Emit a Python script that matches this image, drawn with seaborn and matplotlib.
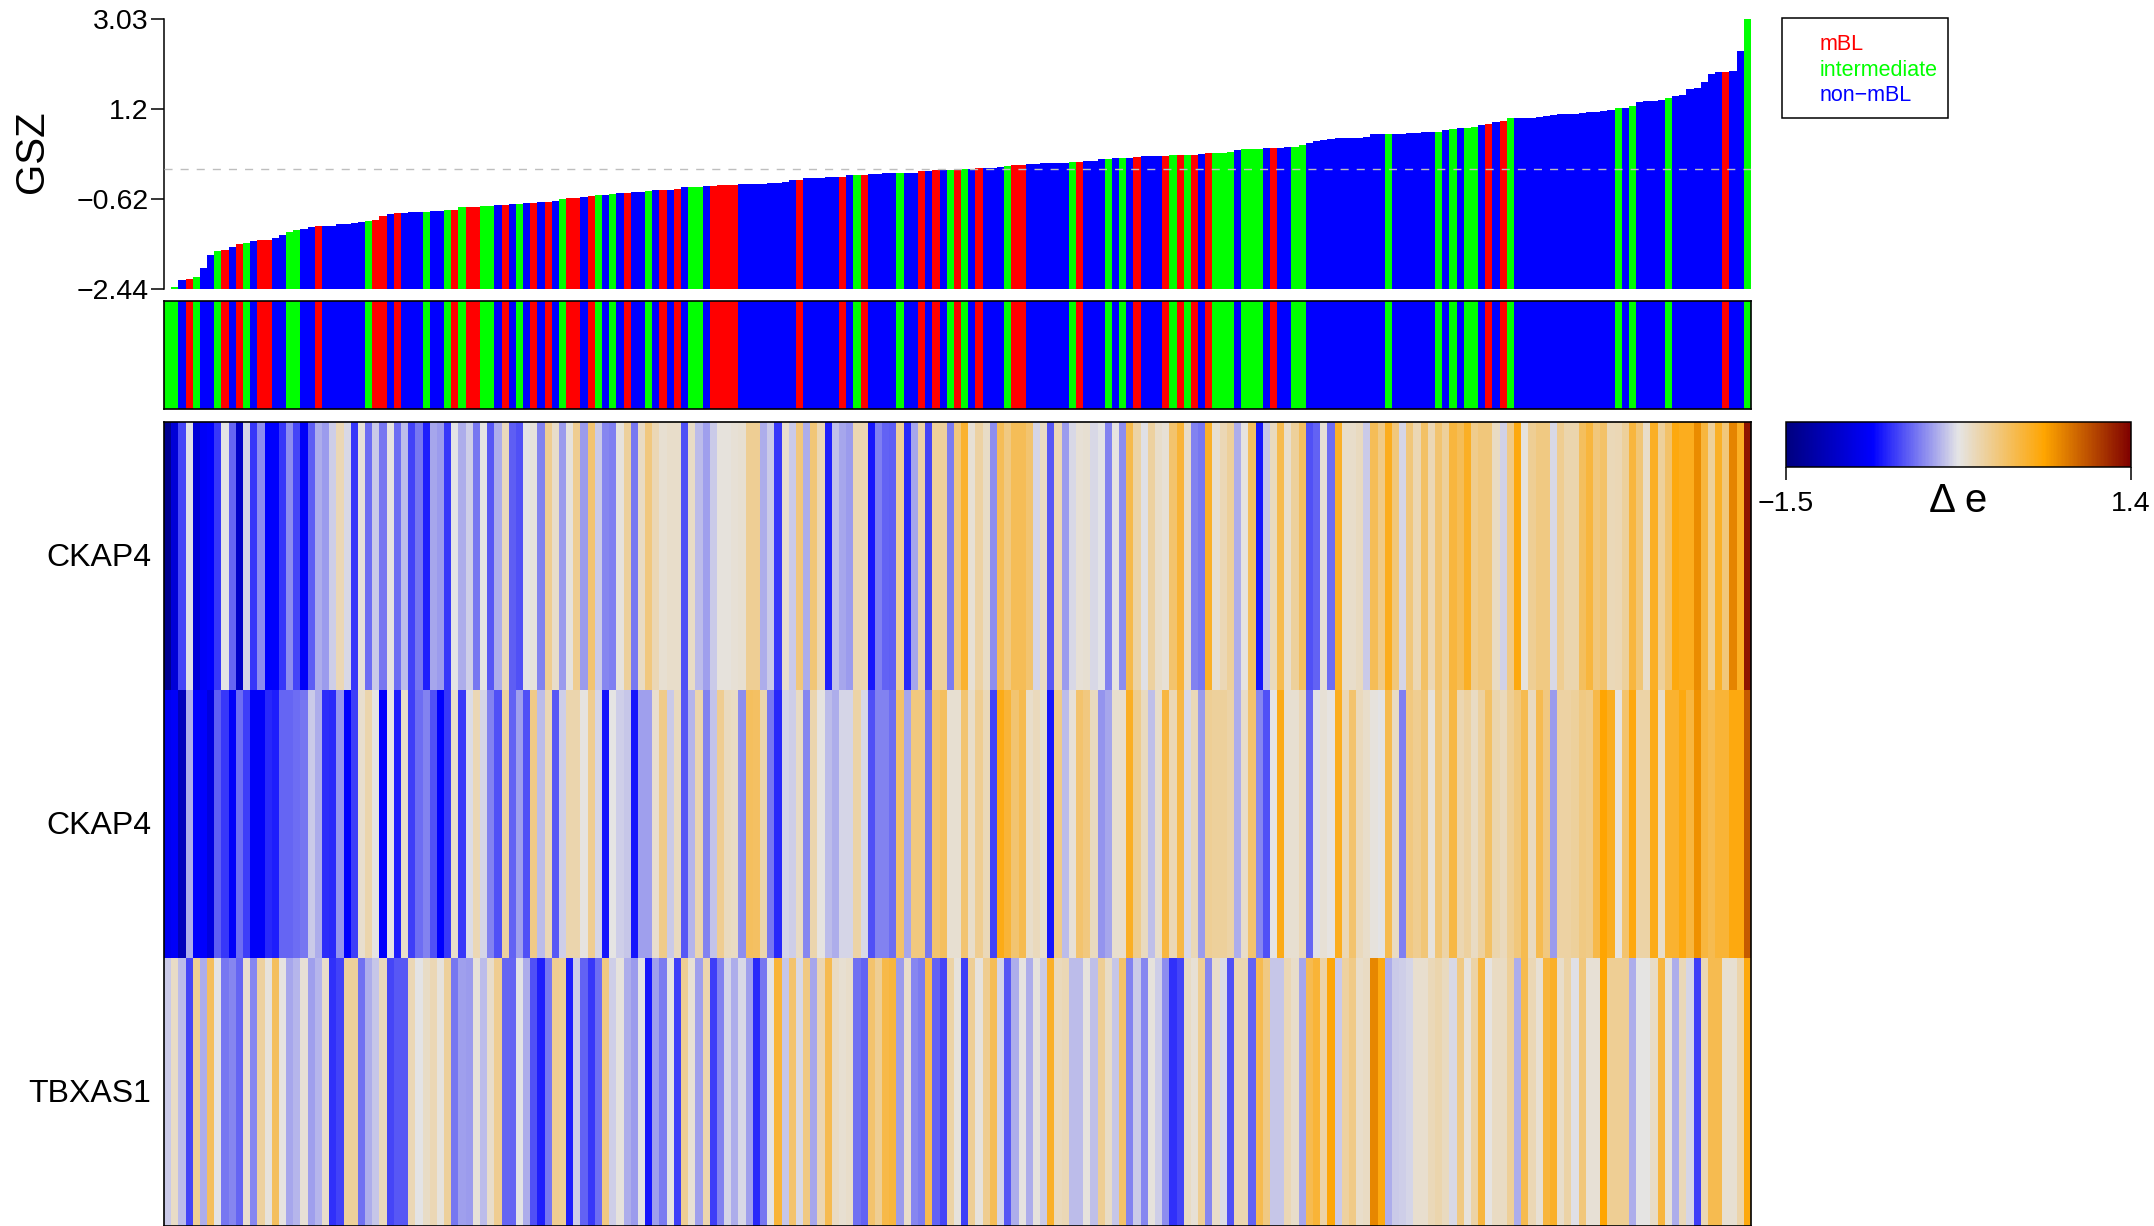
#! /usr/bin/env python
# -*- coding: utf-8 -*-

import numpy as np
import pandas as pd
import matplotlib
matplotlib.use("Agg")
import matplotlib.pyplot as plt
from matplotlib.colors import LinearSegmentedColormap, ListedColormap
from matplotlib.patches import Rectangle
from matplotlib.transforms import ScaledTranslation
import seaborn as sns

# GSZ score per sample, already sorted
gsz = [
    -2.44,-2.40,-2.26,-2.24,-2.20,-2.01,-1.75,-1.67,-1.65,-1.59,
    -1.53,-1.51,-1.47,-1.45,-1.45,-1.41,-1.35,-1.29,-1.24,-1.22,
    -1.18,-1.16,-1.16,-1.16,-1.12,-1.12,-1.10,-1.08,-1.06,-1.04,
    -.96,-.92,-.90,-.90,-.88,-.88,-.88,-.86,-.86,-.84,
    -.84,-.78,-.78,-.78,-.76,-.76,-.74,-.74,-.72,-.72,
    -.70,-.70,-.68,-.68,-.66,-.62,-.60,-.60,-.58,-.56,
    -.54,-.54,-.52,-.50,-.50,-.47,-.47,-.45,-.43,-.43,
    -.43,-.41,-.37,-.37,-.37,-.35,-.35,-.33,-.33,-.33,
    -.31,-.31,-.31,-.31,-.29,-.29,-.27,-.23,-.23,-.19,
    -.19,-.19,-.17,-.17,-.17,-.13,-.13,-.13,-.11,-.11,
    -.09,-.09,-.09,-.09,-.09,-.05,-.05,-.03,-.03,-.03,
    -.01,-.01,-.01,.01,.01,.01,.03,.05,.07,.07,
    .09,.09,.11,.11,.11,.11,.13,.13,.15,.15,
    .19,.19,.21,.21,.21,.23,.25,.25,.25,.25,
    .27,.27,.27,.27,.30,.32,.32,.32,.34,.38,
    .40,.40,.40,.42,.42,.42,.44,.44,.48,.52,
    .56,.58,.60,.62,.62,.62,.62,.64,.70,.70,
    .70,.70,.70,.72,.72,.74,.74,.74,.78,.80,
    .82,.82,.84,.88,.90,.94,.96,1.02,1.02,1.02,
    1.02,1.04,1.06,1.09,1.11,1.11,1.11,1.13,1.15,1.15,
    1.17,1.19,1.23,1.23,1.27,1.35,1.37,1.37,1.39,1.43,
    1.47,1.49,1.61,1.63,1.75,1.92,1.96,1.96,1.98,2.38,3.03,
]

# R = mBL, G = intermediate, B = non-mBL
subtype_codes = (
    "GG B R G BB G R B R G B RR BB GG BB R BBBBBB G RR B R BBB G BB G R G RR GG B R B G B R B R B G "
    "RR B R G B G B R BB G B R B R B GG B RRRR BBBBBBBB R BBBBB R B G R BBBB G BB R B R B G R G B "
    "R BBB G RR BBBBBB G R BBB G B G B R BBB R G R G R B R GGG B GGG B R BB GG BBBBBBBBBBB "
    "G BBBBBB G B G B GG B R B R G BBBBBBBBBBBBBB G B G BBBB G BBBBBBB R BB G"
)

genes = ["CKAP4", "CKAP4", "TBXAS1"]

ckap4_a = [
    -1.4,-1.0,-.55,-.07,-1.0,-.82,-.78,-.6,-.06,-.45,
    -1.1,-.1,-.6,-.33,-.78,-.78,-.6,-.33,-.55,-.8,
    -.48,-.22,-.28,-.12,.1,-.09,-.6,-.01,-.43,-.13,
    -.4,-.03,-.43,-.18,-.57,-.4,-.68,-.25,-.28,-.6,
    -.06,-.22,-.12,-.4,-.05,-.5,-.22,.08,-.48,-.52,
    -.06,-.02,-.36,.22,.03,-.28,-.02,.22,-.28,.32,
    -.13,-.35,-.37,-.02,.18,-.4,.06,.27,.1,.01,
    .04,.04,-.52,.05,-.18,-.27,-.13,-.02,-.02,0,
    .01,.2,.2,-.23,-.13,-.6,.02,-.14,.28,-.22,
    .3,.1,-.68,-.17,-.25,-.28,.11,.11,-.7,-.37,
    -.46,-.47,.2,-.64,-.25,.15,-.55,.18,.18,-.38,
    .28,.52,0,.16,.05,-.33,.4,.26,.4,.4,
    .32,-.1,.06,-.5,.1,-.28,-.09,0,.01,-.09,
    -.06,-.36,-.03,-.33,.43,.15,-.07,.17,.03,0,
    .33,.5,.05,-.36,-.4,.55,.01,.1,.18,-.22,
    -.03,.38,-.7,-.15,.07,.42,.02,.18,.37,-.52,
    -.46,0,-.43,.55,.03,.03,.07,-.13,.4,.25,
    .58,.28,-.1,.28,.1,.35,.1,.32,.18,.48,
    .4,.56,.23,.28,.28,.06,-.11,.25,.62,-.02,
    .2,.26,.26,-.09,.22,.12,.12,.37,.48,.28,
    .34,.09,.1,.18,.48,.3,.03,.56,.18,.34,
    .62,.58,.58,.78,.48,.18,.54,.28,.82,.56,1.3,
]

ckap4_b = [
    -.85,-.8,-1.15,-.23,-.78,-.78,-.95,-.48,-.6,-.8,
    -.43,-.58,-.8,-.8,-.65,-.68,-.45,-.45,-.43,-.4,
    -.14,-.22,-.63,-.65,-.3,-.78,-.58,.02,.12,-.04,
    -.78,-.05,-.68,.03,-.58,-.43,-.36,-.52,-.78,-.6,
    .03,-.6,-.08,.1,-.1,-.36,-.52,.17,-.46,-.27,
    -.52,.25,-.18,.1,-.5,-.12,.12,.13,-.03,.22,
    -.1,-.7,-.04,-.12,-.15,-.7,-.27,-.27,.02,.24,
    -.13,.07,-.5,-.2,.13,-.36,-.16,.22,.07,.06,
    -.33,.38,.36,.13,-.4,-.65,-.1,-.12,.06,-.35,
    .13,-.03,-.18,-.22,-.1,-.1,.15,-.09,-.52,-.36,
    -.36,-.43,.34,-.25,.27,.27,-.4,.33,.38,.01,
    .01,.32,.03,.22,.09,-.57,.6,.5,.32,.42,
    .03,.08,.02,-.7,.24,-.18,0,.33,.27,.07,
    -.31,-.25,.02,.02,.56,.23,.07,-.17,.03,.47,
    .1,.45,-.09,.09,-.28,.2,.18,.18,.15,-.22,
    .04,.33,-.35,-.52,-.04,.6,.01,.01,.1,-.45,
    -.07,0,-.03,.58,.1,.33,.08,.03,-.02,-.06,
    .42,.06,-.37,.27,.22,.3,-.02,.3,.15,.45,
    .11,.17,.06,.17,.35,.13,.08,.2,.28,.42,
    .07,.42,.27,-.28,.16,.16,.18,.26,.24,.44,
    .67,.57,-.03,.33,.63,.15,.15,.6,.03,.52,
    .52,.62,.48,.76,.48,.42,.5,.5,.62,.62,1.0,
]

tbxas1 = [
    -.13,.05,-.18,-.55,.2,-.23,.38,-.06,-.4,-.35,
    -.45,.02,-.35,.17,-.02,.38,-.03,-.25,-.2,0,
    -.27,-.2,.03,-.62,-.56,.18,.18,-.42,-.23,-.15,
    .08,-.55,-.5,-.5,.1,-.06,.05,.1,-.02,.18,
    -.4,-.27,-.28,-.01,-.18,.03,.22,-.45,-.45,-.06,
    -.23,-.52,-.68,-.4,.22,.2,-.68,-.12,-.46,-.6,
    -.43,.26,-.12,-.02,-.23,-.28,-.06,-.7,-.27,-.38,
    -.03,-.58,.2,0,-.27,.13,-.58,-.36,-.1,-.22,
    -.09,-.27,-.65,-.4,-.06,.5,-.15,.33,-.09,.26,
    -.25,.11,.42,.06,.01,.03,-.42,-.46,.33,.2,
    .44,.48,-.28,.03,-.35,-.38,.42,-.46,-.55,.15,
    -.02,-.58,.2,-.02,.22,.4,-.1,-.5,-.23,-.03,
    -.23,-.02,-.13,.54,.08,.1,-.18,-.18,-.02,-.17,
    .2,.05,-.15,.34,-.36,-.14,-.35,-.02,-.12,-.33,
    -.62,-.55,.06,0,.2,-.35,.03,-.08,-.52,.11,
    .11,-.46,.42,.26,-.15,-.15,.1,.03,-.25,.42,
    .5,.15,.65,-.13,.17,.25,.03,.06,.8,.62,
    -.23,-.13,-.12,-.1,.02,.02,.09,.13,.07,-.09,
    .26,-.02,.15,.48,-.03,.06,.06,.19,-.22,.42,
    .1,0,.48,.55,.03,.15,-.07,.28,0,0,
    .67,.2,.2,.2,-.23,-.04,-.04,.05,.48,-.01,
    -.22,.09,-.1,-.58,.1,.42,.42,.01,.01,.14,.62,
]

gsz_ticks = [-2.44, -0.62, 1.2, 3.03]
gsz_tick_labels = ["\u22122.44", "\u22120.62", "1.2", "3.03"]
delta_range = [-1.5, 1.4]
delta_labels = ["\u22121.5", "1.4"]
legend_names = ["mBL", "intermediate", "non\u2212mBL"]

W, H = 2154, 1226
LEFT, RIGHT = 164, 1751
subtype_colors = {"R": "#FF0000", "G": "#00FF00", "B": "#0000FF"}
delta_cmap = LinearSegmentedColormap.from_list(
    "delta", ["#00007F", "#0000FF", "#E5E5E5", "#FFA500", "#7F0000"], N=256
)


def px_axes(fig, l, t, r, b):
    return fig.add_axes([l / W, 1 - b / H, (r - l) / W, (b - t) / H])


sns.set_style("ticks")
plt.rcParams["font.family"] = ["Liberation Sans", "DejaVu Sans"]
plt.rcParams["text.color"] = "black"
plt.rcParams["xtick.color"] = "black"
plt.rcParams["ytick.color"] = "black"
plt.rcParams["axes.edgecolor"] = "black"

fig = plt.figure(figsize=(W / 100, H / 100), dpi=100)

# bars
codes = list(subtype_codes.replace(" ", ""))
df = pd.DataFrame({"sample": np.arange(len(gsz)), "gsz": gsz, "subtype": codes})
df["height"] = df["gsz"] - gsz_ticks[0]

ax_bar = px_axes(fig, LEFT, 19, RIGHT, 289)
sns.barplot(data=df, x="sample", y="height", hue="subtype", palette=subtype_colors,
            saturation=1, dodge=False, width=1.0, errorbar=None, legend=False, linewidth=0,
            antialiased=False, bottom=gsz_ticks[0], ax=ax_bar)
ax_bar.set_xlim(-0.5, len(gsz) - 0.5)
ax_bar.set_ylim(gsz_ticks[0], gsz_ticks[-1])
ax_bar.axhline(0, color="#BEBEBE", lw=1, dashes=(5.8, 5.8), zorder=5)
ax_bar.set_xticks([])
ax_bar.set_yticks(gsz_ticks)
ax_bar.set_yticklabels(gsz_tick_labels, fontsize=20.5)
ax_bar.tick_params(axis="y", length=9.4, width=1.1, pad=1.5)
ax_bar.set_xlabel("")
ax_bar.set_ylabel("")
sns.despine(ax=ax_bar, top=True, right=True, bottom=True)
ax_bar.spines["left"].set_linewidth(1.1)
fig.text(32 / W, 1 - 152 / H, "GSZ", fontsize=29, rotation=90, ha="center", va="center")

# subtype strip
code_index = {"R": 0, "G": 1, "B": 2}
strip = np.array([[code_index[c] for c in codes]])
ax_strip = px_axes(fig, LEFT, 301, RIGHT, 409)
sns.heatmap(strip, cmap=ListedColormap(["#FF0000", "#00FF00", "#0000FF"]), vmin=0, vmax=2,
            cbar=False, xticklabels=False, yticklabels=False, ax=ax_strip)

# expression heatmap + colour key
matrix = np.array([ckap4_a, ckap4_b, tbxas1])
ax_heat = px_axes(fig, LEFT, 422, RIGHT, 1226)
ax_key = px_axes(fig, 1786, 422, 2131, 467)
sns.heatmap(matrix, cmap=delta_cmap, vmin=delta_range[0], vmax=delta_range[1],
            xticklabels=False, yticklabels=genes, ax=ax_heat, cbar_ax=ax_key,
            cbar_kws={"orientation": "horizontal", "ticks": delta_range})
ax_heat.tick_params(axis="y", length=0, pad=9, labelsize=23, rotation=0)
# labels sit a little lower in the original
shift = ScaledTranslation(0, -2.5 / 100, fig.dpi_scale_trans)
for lab in ax_heat.get_yticklabels():
    lab.set_transform(lab.get_transform() + shift)

for a in (ax_strip, ax_heat):
    for side in a.spines:
        a.spines[side].set_visible(True)
        a.spines[side].set_color("black")
        a.spines[side].set_linewidth(1.2)

cb = ax_heat.collections[0].colorbar
cb.set_ticklabels(delta_labels)
cb.ax.tick_params(axis="x", length=9.4, width=1.1, labelsize=20.5, pad=8)
cb.outline.set_visible(True)
cb.outline.set_edgecolor("black")
cb.outline.set_linewidth(1.1)
fig.text(1958 / W, 1 - 501 / H, "\u0394 e", fontsize=29, ha="center", va="center")

# legend box drawn by hand like the original
fig.add_artist(Rectangle((1782 / W, 1 - 118 / H), 166 / W, 100 / H, transform=fig.transFigure,
                         fill=False, edgecolor="black", linewidth=1.1))
for name, col, y in zip(legend_names, ["#FF0000", "#00FF00", "#0000FF"], [44.5, 70.5, 95.5]):
    fig.text(1820 / W, 1 - y / H, name, color=col, fontsize=15.5, ha="left", va="center")

fig.savefig("out.png", dpi=100)
